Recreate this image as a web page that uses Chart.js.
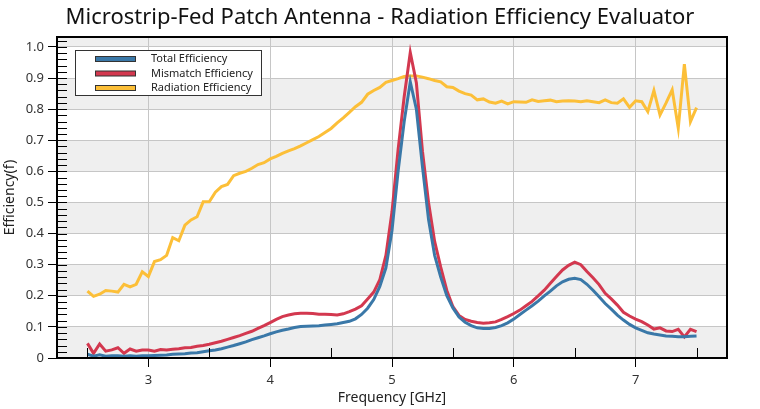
<!DOCTYPE html>
<html>
<head>
<meta charset="utf-8">
<title>Radiation Efficiency Evaluator</title>
<script src="https://cdn.jsdelivr.net/npm/chart.js@4.4.1/dist/chart.umd.min.js"></script>
<style>
  html, body { margin: 0; padding: 0; background: #fff; }
  #wrap { width: 760px; height: 409px; }
</style>
</head>
<body>
<div id="wrap"><canvas id="chart" width="760" height="409"></canvas></div>
<script>
// frequency samples [GHz]
const freqs = [
  2.50, 2.55, 2.60, 2.65, 2.70, 2.75, 2.80, 2.85, 2.90, 2.95,
  3.00, 3.05, 3.10, 3.15, 3.20, 3.25, 3.30, 3.35, 3.40, 3.45,
  3.50, 3.55, 3.60, 3.65, 3.70, 3.75, 3.80, 3.85, 3.90, 3.95,
  4.00, 4.05, 4.10, 4.15, 4.20, 4.25, 4.30, 4.35, 4.40, 4.45,
  4.50, 4.55, 4.60, 4.65, 4.70, 4.75, 4.80, 4.85, 4.90, 4.95,
  5.00, 5.05, 5.10, 5.15, 5.20, 5.25, 5.30, 5.35, 5.40, 5.45,
  5.50, 5.55, 5.60, 5.65, 5.70, 5.75, 5.80, 5.85, 5.90, 5.95,
  6.00, 6.05, 6.10, 6.15, 6.20, 6.25, 6.30, 6.35, 6.40, 6.45,
  6.50, 6.55, 6.60, 6.65, 6.70, 6.75, 6.80, 6.85, 6.90, 6.95,
  7.00, 7.05, 7.10, 7.15, 7.20, 7.25, 7.30, 7.35, 7.40, 7.45,
  7.50
];

const totalEff = [
  0.012, 0.006, 0.010, 0.006, 0.007, 0.007, 0.006, 0.007, 0.006, 0.007,
  0.007, 0.008, 0.009, 0.010, 0.012, 0.013, 0.014, 0.016, 0.017, 0.020,
  0.023, 0.026, 0.030, 0.035, 0.040, 0.046, 0.052, 0.059, 0.065, 0.071,
  0.078, 0.084, 0.089, 0.093, 0.098, 0.101, 0.102, 0.103, 0.104, 0.106,
  0.108, 0.110, 0.114, 0.118, 0.126, 0.140, 0.160, 0.188, 0.230, 0.290,
  0.410, 0.600, 0.760, 0.888, 0.800, 0.615, 0.445, 0.330, 0.260, 0.200,
  0.161, 0.132, 0.115, 0.104, 0.097, 0.095, 0.095, 0.098, 0.104, 0.113,
  0.125, 0.140, 0.154, 0.168, 0.183, 0.200, 0.215, 0.232, 0.245, 0.253,
  0.256, 0.252, 0.237, 0.218, 0.197, 0.175, 0.157, 0.138, 0.122, 0.108,
  0.097, 0.089, 0.081, 0.077, 0.074, 0.071, 0.070, 0.068, 0.068, 0.070,
  0.071
];

const mismatchEff = [
  0.047, 0.015, 0.045, 0.022, 0.026, 0.033, 0.015, 0.029, 0.022, 0.026,
  0.026, 0.022, 0.027, 0.026, 0.028, 0.030, 0.033, 0.034, 0.038, 0.040,
  0.044, 0.049, 0.054, 0.060, 0.066, 0.072, 0.079, 0.086, 0.095, 0.104,
  0.114, 0.124, 0.133, 0.138, 0.142, 0.144, 0.144, 0.143, 0.141, 0.141,
  0.140, 0.138, 0.142, 0.149, 0.157, 0.168, 0.190, 0.212, 0.252, 0.330,
  0.470, 0.670, 0.840, 0.982, 0.885, 0.665, 0.500, 0.375, 0.292, 0.217,
  0.165, 0.137, 0.124, 0.118, 0.114, 0.112, 0.113, 0.116, 0.124, 0.133,
  0.143, 0.154, 0.168, 0.182, 0.200, 0.218, 0.240, 0.262, 0.283, 0.298,
  0.308, 0.300, 0.278, 0.258, 0.236, 0.208, 0.190, 0.170, 0.147, 0.135,
  0.125, 0.117, 0.106, 0.093, 0.097, 0.087, 0.085, 0.092, 0.068, 0.092,
  0.085
];

const radiationEff = [
  0.215, 0.198, 0.205, 0.217, 0.215, 0.212, 0.237, 0.229, 0.237, 0.277,
  0.262, 0.310, 0.316, 0.330, 0.387, 0.377, 0.427, 0.444, 0.454, 0.502,
  0.502, 0.533, 0.551, 0.558, 0.586, 0.594, 0.600, 0.610, 0.622, 0.628,
  0.640, 0.648, 0.658, 0.666, 0.673, 0.682, 0.692, 0.702, 0.712, 0.725,
  0.738, 0.756, 0.772, 0.790, 0.808, 0.822, 0.848, 0.860, 0.870, 0.886,
  0.892, 0.898, 0.905, 0.907, 0.907, 0.903, 0.898, 0.892, 0.888, 0.872,
  0.870, 0.858, 0.850, 0.845, 0.830, 0.833, 0.823, 0.819, 0.826, 0.817,
  0.824, 0.823, 0.822, 0.830, 0.825, 0.827, 0.829, 0.824, 0.826, 0.827,
  0.826, 0.824, 0.827, 0.824, 0.821, 0.830, 0.821, 0.819, 0.833, 0.806,
  0.827, 0.824, 0.792, 0.860, 0.781, 0.820, 0.862, 0.739, 0.945, 0.760,
  0.805
];

const seriesNames = ['Total Efficiency', 'Mismatch Efficiency', 'Radiation Efficiency'];
const xTickValues = [3, 4, 5, 6, 7];
const xMinorTicks = [2.5, 3.5, 4.5, 5.5, 6.5, 7.5];
const yTickValues = [0, 0.1, 0.2, 0.3, 0.4, 0.5, 0.6, 0.7, 0.8, 0.9, 1.0];

const FONT = "'Noto Sans', 'Open Sans', sans-serif";

function pts(vals) {
  return freqs.map((f, i) => ({ x: f, y: vals[i] }));
}

// bands, frame, inner ticks and the boxed legend
const decor = {
  id: 'decor',
  beforeDraw(chart) {
    const { ctx, chartArea: a, scales: { y } } = chart;
    ctx.save();
    ctx.fillStyle = '#efefef';
    for (let i = 0; i < yTickValues.length; i += 2) {
      const lo = yTickValues[i];
      const hi = i + 1 < yTickValues.length ? yTickValues[i + 1] : y.max;
      const top = y.getPixelForValue(hi), bot = y.getPixelForValue(lo);
      ctx.fillRect(a.left, top, a.right - a.left, bot - top);
    }
    ctx.restore();
  },
  afterDraw(chart) {
    const { ctx, chartArea: a, scales: { x, y } } = chart;
    ctx.save();
    ctx.strokeStyle = '#000';
    ctx.lineWidth = 1;
    ctx.beginPath();
    for (let v = 0; v <= y.max + 1e-9; v += 0.02) {
      const py = Math.round(y.getPixelForValue(v)) + 0.5;
      ctx.moveTo(a.left, py); ctx.lineTo(a.left + 10, py);
    }
    xMinorTicks.forEach(v => {
      const px = Math.round(x.getPixelForValue(v)) + 0.5;
      ctx.moveTo(px, a.bottom); ctx.lineTo(px, a.bottom - 10);
    });
    ctx.stroke();
    ctx.lineWidth = 2;
    ctx.strokeRect(a.left, a.top, a.right - a.left, a.bottom - a.top);

    // legend
    const lx = 75.5, ly = 50.5, lw = 186, lh = 45;
    ctx.fillStyle = '#fff';
    ctx.fillRect(lx, ly, lw, lh);
    ctx.lineWidth = 1;
    ctx.strokeStyle = '#333';
    ctx.strokeRect(lx, ly, lw, lh);
    ctx.font = '11px ' + FONT;
    ctx.textBaseline = 'middle';
    chart.data.datasets.forEach((ds, i) => {
      const cy = 59 + i * 14.5;
      ctx.fillStyle = ds.borderColor;
      ctx.fillRect(95.5, cy - 2.5, 40, 5);
      ctx.strokeStyle = '#333';
      ctx.strokeRect(95.5, cy - 2.5, 40, 5);
      ctx.fillStyle = '#222';
      ctx.fillText(ds.label, 151, cy);
    });
    ctx.restore();
  }
};

const lineStyle = { borderWidth: 3, pointRadius: 0, tension: 0, fill: false };

new Chart(document.getElementById('chart').getContext('2d'), {
  type: 'line',
  data: {
    datasets: [
      { label: seriesNames[0], data: pts(totalEff), borderColor: '#3a78a8', ...lineStyle },
      { label: seriesNames[1], data: pts(mismatchEff), borderColor: '#d3384f', ...lineStyle },
      { label: seriesNames[2], data: pts(radiationEff), borderColor: '#fcbf38', ...lineStyle }
    ]
  },
  options: {
    responsive: false,
    animation: false,
    devicePixelRatio: 1,
    layout: { padding: { left: 0, right: 0, top: 0, bottom: 0 } },
    plugins: {
      legend: { display: false },
      tooltip: { enabled: false },
      title: {
        display: true,
        text: 'Microstrip-Fed Patch Antenna - Radiation Efficiency Evaluator',
        color: '#111',
        font: { family: FONT, size: 22, weight: 'normal', lineHeight: 1.2 },
        padding: { top: 5, bottom: 5.6 }
      }
    },
    scales: {
      x: {
        type: 'linear',
        min: 2.25,
        max: 7.75,
        afterBuildTicks: s => { s.ticks = xTickValues.map(v => ({ value: v })); },
        afterFit: s => { s.height = 51; },
        grid: { color: '#c6c6c6', tickColor: '#000', tickLength: 9, lineWidth: 1 },
        border: { display: false },
        ticks: { color: '#333', padding: 5, font: { family: FONT, size: 13 }, maxRotation: 0 },
        title: {
          display: true, text: 'Frequency [GHz]', color: '#222',
          font: { family: FONT, size: 14 }, padding: { top: 0, bottom: 3 }
        }
      },
      y: {
        min: 0,
        max: 1.032,
        afterBuildTicks: s => { s.ticks = yTickValues.map(v => ({ value: v })); },
        afterFit: s => { s.width = 57; },
        grid: { color: '#c6c6c6', tickColor: '#000', tickLength: 9, lineWidth: 1 },
        border: { display: false },
        ticks: {
          color: '#333', padding: 4, font: { family: FONT, size: 13 },
          callback: v => (v === 0 ? '0' : v.toFixed(1))
        },
        title: {
          display: true, text: 'Efficiency(f)', color: '#222',
          font: { family: FONT, size: 14 }, padding: { top: 2, bottom: 0 }
        }
      },
      // empty right-hand gutter so the title stays centred on the page
      gutter: {
        type: 'linear',
        position: 'right',
        display: true,
        afterFit: s => { s.width = 33; },
        grid: { display: false },
        border: { display: false },
        ticks: { display: false }
      }
    }
  },
  plugins: [decor]
});
</script>
</body>
</html>
